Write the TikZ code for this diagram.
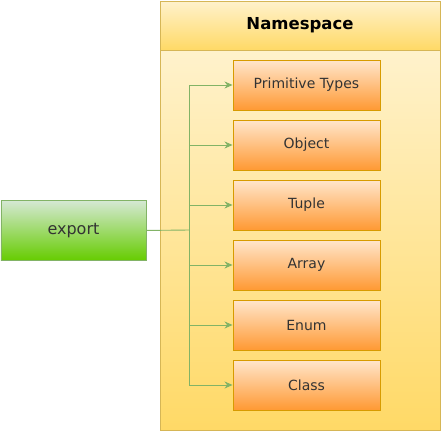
\documentclass[tikz,border=0pt]{standalone}
\usepackage{fontspec}
\setmainfont{DejaVu Sans}
\usetikzlibrary{arrows.meta,positioning}
\definecolor{nsstroke}{HTML}{D6B656}
\definecolor{nstop}{HTML}{FFF2CC}
\definecolor{nsbot}{HTML}{FFD966}
\definecolor{otop}{HTML}{FFE6CC}
\definecolor{obot}{HTML}{FF9933}
\definecolor{ostroke}{HTML}{D79B00}
\definecolor{gtop}{HTML}{D5E8D4}
\definecolor{gbot}{HTML}{66CC00}
\definecolor{gstroke}{HTML}{82B366}
\definecolor{txt}{HTML}{333333}
\tikzset{
  typebox/.style={draw=ostroke, top color=otop, bottom color=obot, minimum width=147pt, minimum height=50pt, inner sep=0pt, font=\fontsize{14}{16}\selectfont, text=txt, line width=0.9pt},
  link/.style={draw=gstroke, line width=0.9pt, -{Stealth[length=8pt,width=7pt,inset=2.5pt]}},
}
\begin{document}
\begin{tikzpicture}[x=1pt,y=-1pt]
\useasboundingbox (0,0) rectangle (441,431);
% container
\path[top color=nstop, bottom color=nsbot, draw=nsstroke, line width=0.9pt] (160.5,50) rectangle (440,430);
\path[top color=nstop, bottom color=nsbot, draw=nsstroke, line width=0.9pt] (160.5,1) rectangle (440,50);
\node[font=\fontsize{16.5}{19}\selectfont\bfseries] (ns) at (300,25.5) {Namespace};
% export
\node[draw=gstroke, top color=gtop, bottom color=gbot, minimum width=145pt, minimum height=60pt, inner sep=0pt, font=\fontsize{16}{19}\selectfont, text=txt, line width=0.9pt, anchor=north west] (export) at (0.5,200) {export};
% types
\node[typebox] (t1) at (306.5,85) {Primitive Types};
\node[typebox] (t2) at (306.5,145) {Object};
\node[typebox] (t3) at (306.5,205) {Tuple};
\node[typebox] (t4) at (306.5,265) {Array};
\node[typebox] (t5) at (306.5,325) {Enum};
\node[typebox] (t6) at (306.5,385) {Class};
\coordinate (j) at (189.5,230);
\draw[draw=gstroke, line width=0.9pt] (export.east) -- (j);
\foreach \t in {t1,t2,t3,t4,t5,t6}{
  \draw[link] (j) |- (\t.west);
}
\end{tikzpicture}
\end{document}
